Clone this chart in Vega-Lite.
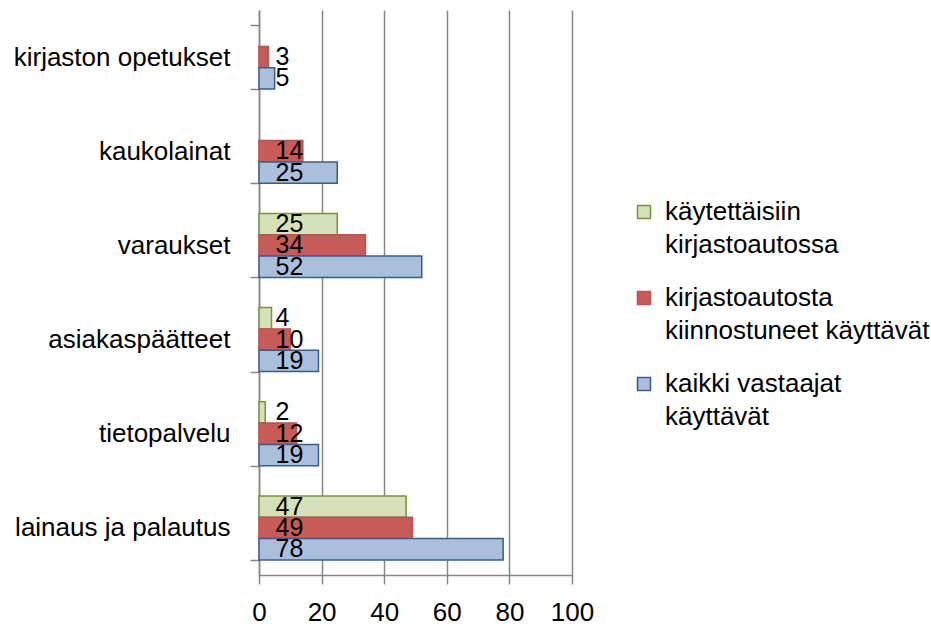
{
  "$schema": "https://vega.github.io/schema/vega-lite/v6.json",
  "width": 313,
  "height": 565,
  "autosize": "none",
  "padding": {"left": 259, "top": 10, "right": 359, "bottom": 53},
  "background": "white",
  "config": {
    "view": {"stroke": null},
    "font": "Liberation Sans",
    "axis": {"labelFont": "Liberation Sans", "labelColor": "black"}
  },
  "data": {
    "values": [
      {"cat": "kirjaston opetukset", "series": "kirjastoautosta kiinnostuneet käyttävät", "value": 3},
      {"cat": "kirjaston opetukset", "series": "kaikki vastaajat käyttävät", "value": 5},
      {"cat": "kaukolainat", "series": "kirjastoautosta kiinnostuneet käyttävät", "value": 14},
      {"cat": "kaukolainat", "series": "kaikki vastaajat käyttävät", "value": 25},
      {"cat": "varaukset", "series": "käytettäisiin kirjastoautossa", "value": 25},
      {"cat": "varaukset", "series": "kirjastoautosta kiinnostuneet käyttävät", "value": 34},
      {"cat": "varaukset", "series": "kaikki vastaajat käyttävät", "value": 52},
      {"cat": "asiakaspäätteet", "series": "käytettäisiin kirjastoautossa", "value": 4},
      {"cat": "asiakaspäätteet", "series": "kirjastoautosta kiinnostuneet käyttävät", "value": 10},
      {"cat": "asiakaspäätteet", "series": "kaikki vastaajat käyttävät", "value": 19},
      {"cat": "tietopalvelu", "series": "käytettäisiin kirjastoautossa", "value": 2},
      {"cat": "tietopalvelu", "series": "kirjastoautosta kiinnostuneet käyttävät", "value": 12},
      {"cat": "tietopalvelu", "series": "kaikki vastaajat käyttävät", "value": 19},
      {"cat": "lainaus ja palautus", "series": "käytettäisiin kirjastoautossa", "value": 47},
      {"cat": "lainaus ja palautus", "series": "kirjastoautosta kiinnostuneet käyttävät", "value": 49},
      {"cat": "lainaus ja palautus", "series": "kaikki vastaajat käyttävät", "value": 78}
    ]
  },
  "encoding": {
    "y": {
      "field": "cat",
      "type": "nominal",
      "sort": ["kirjaston opetukset", "kaukolainat", "varaukset", "asiakaspäätteet", "tietopalvelu", "lainaus ja palautus"],
      "scale": {"paddingInner": 0.32, "paddingOuter": 0.16},
      "axis": {
        "title": null,
        "tickBand": "extent",
        "tickSize": 9,
        "tickColor": "#868686",
        "tickWidth": 1.5,
        "domainColor": "#868686",
        "domainWidth": 1.5,
        "labelFontSize": 26,
        "labelPadding": 20,
        "labelLimit": 300,
        "grid": false
      }
    },
    "yOffset": {
      "field": "series",
      "type": "nominal",
      "sort": ["käytettäisiin kirjastoautossa", "kirjastoautosta kiinnostuneet käyttävät", "kaikki vastaajat käyttävät"],
      "scale": {"paddingInner": 0, "paddingOuter": 0}
    }
  },
  "layer": [
    {
      "mark": {"type": "bar", "strokeWidth": 1.5},
      "encoding": {
        "x": {
          "field": "value",
          "type": "quantitative",
          "scale": {"domain": [0, 100]},
          "axis": {
            "title": null,
            "values": [0, 20, 40, 60, 80, 100],
            "grid": true,
            "gridColor": "#868686",
            "gridWidth": 1.5,
            "tickSize": 9,
            "tickColor": "#868686",
            "tickWidth": 1.5,
            "domainColor": "#868686",
            "domainWidth": 1.5,
            "labelFontSize": 26,
            "labelPadding": 15,
            "labelFlush": false
          }
        },
        "fill": {
          "field": "series",
          "type": "nominal",
          "sort": ["käytettäisiin kirjastoautossa", "kirjastoautosta kiinnostuneet käyttävät", "kaikki vastaajat käyttävät"],
          "scale": {"range": ["#d5e2b9", "#c65b58", "#a9bfdc"]},
          "legend": {
            "title": null,
            "orient": "none",
            "legendX": 372,
            "legendY": 189,
            "symbolType": "square",
            "symbolSize": 169,
            "symbolStrokeWidth": 1.5,
            "labelFont": "Liberation Sans",
            "labelFontSize": 26,
            "labelColor": "black",
            "labelLimit": 400,
            "labelOffset": 8,
            "rowPadding": 27,
            "labelExpr": "datum.label == 'käytettäisiin kirjastoautossa' ? ['käytettäisiin', 'kirjastoautossa'] : datum.label == 'kirjastoautosta kiinnostuneet käyttävät' ? ['kirjastoautosta', 'kiinnostuneet käyttävät'] : ['kaikki vastaajat', 'käyttävät']",
            "encode": {
              "symbols": {"update": {"stroke": {"scale": "stroke", "field": "value"}}},
              "labels": {"update": {"lineHeight": {"value": 33}}}
            }
          }
        },
        "stroke": {
          "field": "series",
          "type": "nominal",
          "sort": ["käytettäisiin kirjastoautossa", "kirjastoautosta kiinnostuneet käyttävät", "kaikki vastaajat käyttävät"],
          "scale": {"range": ["#77933c", "#c0504d", "#385d8a"]},
          "legend": null
        }
      }
    },
    {
      "mark": {"type": "text", "align": "left", "baseline": "middle", "fontSize": 25, "font": "Liberation Sans", "color": "black"},
      "encoding": {
        "x": {"datum": 5.3, "type": "quantitative"},
        "text": {"field": "value", "type": "quantitative"}
      }
    }
  ]
}
